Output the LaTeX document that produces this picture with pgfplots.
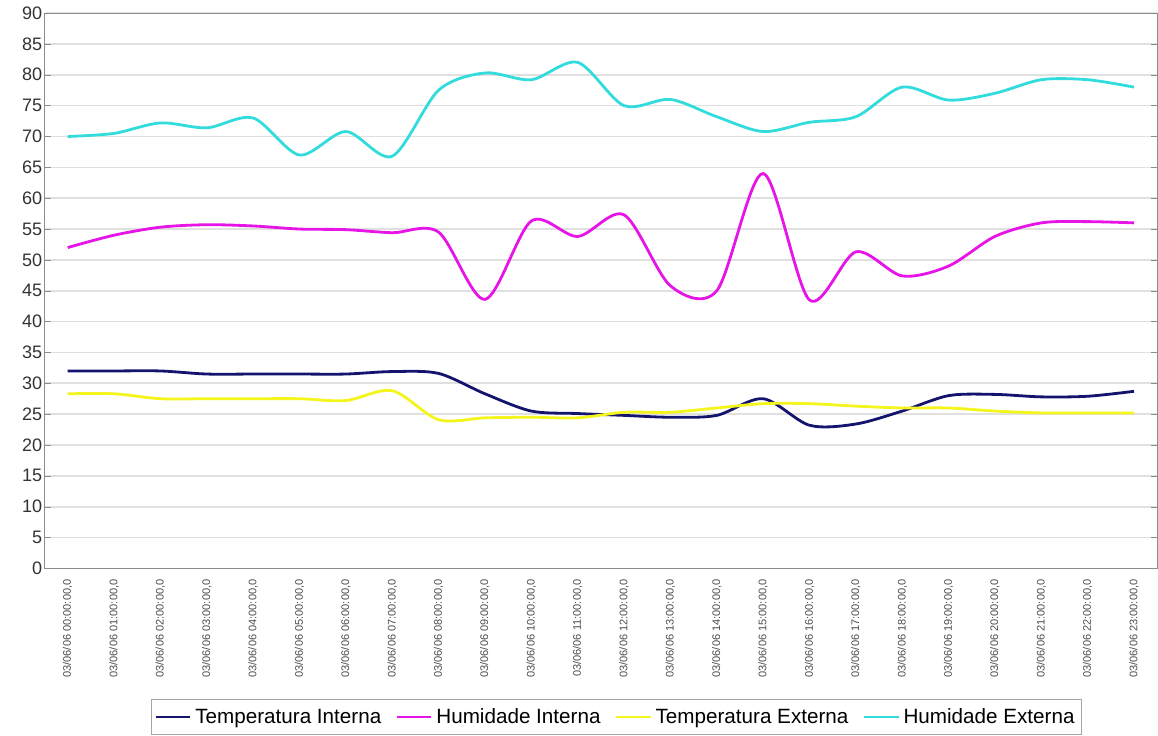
\documentclass[border=0pt]{standalone}
\usepackage{pgfplots}
\pgfplotsset{compat=1.18}
\usepackage{fontspec}
\setmainfont{Liberation Sans}

\definecolor{tint}{RGB}{20,20,110}
\definecolor{humint}{RGB}{230,20,230}
\definecolor{text}{RGB}{245,245,30}
\definecolor{humext}{RGB}{50,220,220}

\pgfplotstableread{
h tint hint text hext
0  32.0 52.0 28.3 70.0
1  32.0 54.0 28.3 70.5
2  32.0 55.3 27.5 72.2
3  31.5 55.7 27.5 71.4
4  31.5 55.5 27.5 73.0
5  31.5 55.0 27.5 67.0
6  31.5 54.9 27.2 70.8
7  31.9 54.4 28.8 66.8
8  31.6 54.5 24.1 77.5
9  28.3 43.6 24.4 80.3
10 25.5 56.3 24.5 79.2
11 25.1 53.8 24.4 82.0
12 24.8 57.3 25.3 75.0
13 24.5 45.8 25.3 76.0
14 24.8 45.0 26.0 73.2
15 27.5 64.0 26.7 70.8
16 23.2 43.5 26.7 72.3
17 23.4 51.3 26.3 73.2
18 25.5 47.4 26.0 78.0
19 28.0 49.0 26.0 75.9
20 28.2 53.8 25.5 77.0
21 27.8 56.0 25.2 79.2
22 27.9 56.2 25.2 79.2
23 28.7 56.0 25.2 78.0
}\dados

\begin{document}
\begin{tikzpicture}
\begin{axis}[
  scale only axis,
  width=555pt, height=277pt,
  xmin=-0.5, xmax=23.5,
  ymin=0, ymax=90,
  ytick={0,5,...,90},
  xtick={0,...,23},
  xticklabels={{03/06/06 00:00:00,0},{03/06/06 01:00:00,0},{03/06/06 02:00:00,0},{03/06/06 03:00:00,0},{03/06/06 04:00:00,0},{03/06/06 05:00:00,0},{03/06/06 06:00:00,0},{03/06/06 07:00:00,0},{03/06/06 08:00:00,0},{03/06/06 09:00:00,0},{03/06/06 10:00:00,0},{03/06/06 11:00:00,0},{03/06/06 12:00:00,0},{03/06/06 13:00:00,0},{03/06/06 14:00:00,0},{03/06/06 15:00:00,0},{03/06/06 16:00:00,0},{03/06/06 17:00:00,0},{03/06/06 18:00:00,0},{03/06/06 19:00:00,0},{03/06/06 20:00:00,0},{03/06/06 21:00:00,0},{03/06/06 22:00:00,0},{03/06/06 23:00:00,0}},
  x tick label style={rotate=90, anchor=east, font=\fontsize{5.5}{6}\selectfont, text=black!70, xshift=-2pt},
  y tick label style={font=\fontsize{9}{10}\selectfont, text=black!80, text width=20pt, align=right, inner xsep=1pt},
  /pgf/number format/assume math mode=true,
  ymajorgrids,
  grid style={black!12, line width=0.8pt},
  axis line style={black!45},
  major tick length=3pt,
  tick style={black!45},
  xtick style={draw=none},
  legend columns=4,
  legend style={at={(0.514,-0.2345)}, anchor=north, draw=black!35,
    font=\fontsize{10.3}{12}\selectfont, inner sep=1.5pt,
    nodes={text height=1.6ex, text depth=0.45ex},
    /tikz/every even column/.append style={column sep=5pt}},
  legend cell align=left,
  every axis plot/.append style={line width=1.4pt, smooth, no markers},
]
\addplot[color=tint] table[x=h, y=tint] {\dados};
\addlegendentry{Temperatura Interna}
\addplot[color=humint] table[x=h, y=hint] {\dados};
\addlegendentry{Humidade Interna}
\addplot[color=text] table[x=h, y=text] {\dados};
\addlegendentry{Temperatura Externa}
\addplot[color=humext] table[x=h, y=hext] {\dados};
\addlegendentry{Humidade Externa}
\end{axis}
\end{tikzpicture}
\end{document}
